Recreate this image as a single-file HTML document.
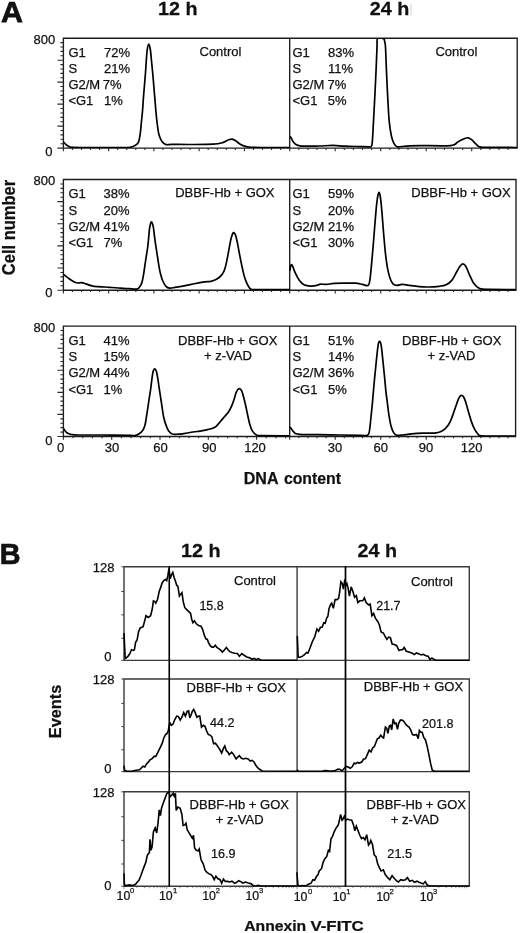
<!DOCTYPE html>
<html><head><meta charset="utf-8"><style>
html,body{margin:0;padding:0;background:#fff;}
svg{display:block;filter:grayscale(1);}
text{font-family:"Liberation Sans",sans-serif;fill:#111;stroke:#111;stroke-width:0.25px;}
</style></head><body>
<svg width="520" height="933" viewBox="0 0 520 933">
<rect width="520" height="933" fill="#fff"/>
<clipPath id="ca0"><rect x="63.4" y="38.2" width="453.8" height="109.9"/></clipPath>
<path d="M63.4,38.2 H517.2 V148.1 H63.4 Z M289.7,38.2 V148.1" stroke="#1c1c1c" stroke-width="1.35" fill="none"/>
<path d="M57.4,148.10 h6.0 M60.4,143.70 h3.0 M60.4,139.31 h3.0 M60.4,134.91 h3.0 M60.4,130.52 h3.0 M57.4,126.12 h6.0 M60.4,121.72 h3.0 M60.4,117.33 h3.0 M60.4,112.93 h3.0 M60.4,108.54 h3.0 M57.4,104.14 h6.0 M60.4,99.74 h3.0 M60.4,95.35 h3.0 M60.4,90.95 h3.0 M60.4,86.56 h3.0 M57.4,82.16 h6.0 M60.4,77.76 h3.0 M60.4,73.37 h3.0 M60.4,68.97 h3.0 M60.4,64.58 h3.0 M57.4,60.18 h6.0 M60.4,55.78 h3.0 M60.4,51.39 h3.0 M60.4,46.99 h3.0 M60.4,42.60 h3.0 M63.40,148.1 v3.2 M72.45,148.1 v1.8 M81.50,148.1 v1.8 M90.55,148.1 v1.8 M99.60,148.1 v1.8 M108.65,148.1 v3.2 M117.70,148.1 v1.8 M126.75,148.1 v1.8 M135.80,148.1 v1.8 M144.85,148.1 v1.8 M153.90,148.1 v3.2 M162.95,148.1 v1.8 M172.00,148.1 v1.8 M181.05,148.1 v1.8 M190.10,148.1 v1.8 M199.15,148.1 v3.2 M208.20,148.1 v1.8 M217.25,148.1 v1.8 M226.30,148.1 v1.8 M235.35,148.1 v1.8 M244.40,148.1 v3.2 M253.45,148.1 v1.8 M262.50,148.1 v1.8 M271.55,148.1 v1.8 M280.60,148.1 v1.8 M289.70,148.1 v3.2 M298.80,148.1 v1.8 M307.90,148.1 v1.8 M317.00,148.1 v1.8 M326.10,148.1 v1.8 M335.20,148.1 v3.2 M344.30,148.1 v1.8 M353.40,148.1 v1.8 M362.50,148.1 v1.8 M371.60,148.1 v1.8 M380.70,148.1 v3.2 M389.80,148.1 v1.8 M398.90,148.1 v1.8 M408.00,148.1 v1.8 M417.10,148.1 v1.8 M426.20,148.1 v3.2 M435.30,148.1 v1.8 M444.40,148.1 v1.8 M453.50,148.1 v1.8 M462.60,148.1 v1.8 M471.70,148.1 v3.2 M480.80,148.1 v1.8 M489.90,148.1 v1.8 M499.00,148.1 v1.8 M508.10,148.1 v1.8 " stroke="#2a2a2a" stroke-width="1.1" fill="none"/>
<g clip-path="url(#ca0)"><path d="M63.50,142.00 C63.92,142.43 65.08,143.85 66.00,144.60 C66.92,145.35 68.00,146.05 69.00,146.50 C70.00,146.95 68.50,147.13 72.00,147.30 C75.50,147.47 82.00,147.47 90.00,147.50 C98.00,147.53 113.33,147.53 120.00,147.50 C126.67,147.47 127.53,147.62 130.00,147.30 C132.47,146.98 133.40,146.42 134.80,145.60 C136.20,144.78 137.50,144.33 138.40,142.40 C139.30,140.47 139.70,137.40 140.20,134.00 C140.70,130.60 141.00,126.00 141.40,122.00 C141.80,118.00 142.27,114.00 142.60,110.00 C142.93,106.00 143.10,102.00 143.40,98.00 C143.70,94.00 144.07,90.00 144.40,86.00 C144.73,82.00 145.10,78.00 145.40,74.00 C145.70,70.00 145.90,66.00 146.20,62.00 C146.50,58.00 146.77,52.97 147.20,50.00 C147.63,47.03 148.27,44.20 148.80,44.20 C149.33,44.20 149.93,47.03 150.40,50.00 C150.87,52.97 151.20,58.00 151.60,62.00 C152.00,66.00 152.43,70.00 152.80,74.00 C153.17,78.00 153.47,82.00 153.80,86.00 C154.13,90.00 154.47,94.00 154.80,98.00 C155.13,102.00 155.43,106.00 155.80,110.00 C156.17,114.00 156.50,118.00 157.00,122.00 C157.50,126.00 158.00,130.80 158.80,134.00 C159.60,137.20 160.60,139.43 161.80,141.20 C163.00,142.97 164.30,144.07 166.00,144.60 C167.70,145.13 168.00,144.42 172.00,144.40 C176.00,144.38 183.17,144.53 190.00,144.50 C196.83,144.47 207.55,144.52 213.00,144.20 C218.45,143.88 220.08,143.35 222.70,142.60 C225.32,141.85 227.10,140.28 228.70,139.70 C230.30,139.12 231.10,138.88 232.30,139.10 C233.50,139.32 234.50,140.10 235.90,141.00 C237.30,141.90 239.10,143.60 240.70,144.50 C242.30,145.40 243.70,145.93 245.50,146.40 C247.30,146.87 247.42,147.10 251.50,147.30 C255.58,147.50 263.75,147.53 270.00,147.60 C276.25,147.67 285.83,147.68 289.00,147.70" stroke="#000" stroke-width="1.7" fill="none" stroke-linejoin="round" stroke-linecap="round"/><path d="M290.50,137.00 C290.67,137.25 291.08,137.75 291.50,138.50 C291.92,139.25 292.25,140.50 293.00,141.50 C293.75,142.50 294.83,143.78 296.00,144.50 C297.17,145.22 297.67,145.52 300.00,145.80 C302.33,146.08 306.67,146.17 310.00,146.20 C313.33,146.23 316.17,146.13 320.00,146.00 C323.83,145.87 328.83,145.37 333.00,145.40 C337.17,145.43 340.50,146.00 345.00,146.20 C349.50,146.40 356.00,146.50 360.00,146.60 C364.00,146.70 367.13,146.80 369.00,146.80 C370.87,146.80 370.65,147.38 371.20,146.60 C371.75,145.82 371.92,146.33 372.30,142.10 C372.68,137.87 373.08,128.78 373.50,121.20 C373.92,113.62 374.38,104.80 374.80,96.60 C375.22,88.40 375.63,80.22 376.00,72.00 C376.37,63.78 376.73,52.87 377.00,47.30 C377.27,41.73 376.53,40.05 377.60,38.60 C378.67,37.15 382.23,38.17 383.40,38.60 C384.57,39.03 384.25,39.75 384.60,41.20 C384.95,42.65 385.18,42.17 385.50,47.30 C385.82,52.43 386.13,63.78 386.50,72.00 C386.87,80.22 387.25,88.40 387.70,96.60 C388.15,104.80 388.58,114.63 389.20,121.20 C389.82,127.77 390.62,132.30 391.40,136.00 C392.18,139.70 392.97,141.60 393.90,143.40 C394.83,145.20 395.67,146.28 397.00,146.80 C398.33,147.32 399.85,146.67 401.90,146.50 C403.95,146.33 406.28,145.95 409.30,145.80 C412.32,145.65 413.08,145.63 420.00,145.60 C426.92,145.57 444.52,146.22 450.80,145.60 C457.08,144.98 455.38,143.08 457.70,141.90 C460.02,140.72 462.97,139.18 464.70,138.50 C466.43,137.82 466.95,137.62 468.10,137.80 C469.25,137.98 470.25,138.53 471.60,139.60 C472.95,140.67 474.67,142.95 476.20,144.20 C477.73,145.45 476.83,146.57 480.80,147.10 C484.77,147.63 494.05,147.33 500.00,147.40 C505.95,147.47 513.75,147.48 516.50,147.50" stroke="#000" stroke-width="1.7" fill="none" stroke-linejoin="round" stroke-linecap="round"/></g>
<text transform="translate(55.30,43.50) scale(1.000,1)" font-size="13" text-anchor="end">800</text>
<text transform="translate(52.50,155.60) scale(1.000,1)" font-size="13" text-anchor="end">0</text>
<clipPath id="ca1"><rect x="63.4" y="179.5" width="452.6" height="110.7"/></clipPath>
<path d="M63.4,179.5 H516.0 V290.2 H63.4 Z M289.7,179.5 V290.2" stroke="#1c1c1c" stroke-width="1.35" fill="none"/>
<path d="M57.4,290.20 h6.0 M60.4,285.77 h3.0 M60.4,281.34 h3.0 M60.4,276.92 h3.0 M60.4,272.49 h3.0 M57.4,268.06 h6.0 M60.4,263.63 h3.0 M60.4,259.20 h3.0 M60.4,254.78 h3.0 M60.4,250.35 h3.0 M57.4,245.92 h6.0 M60.4,241.49 h3.0 M60.4,237.06 h3.0 M60.4,232.64 h3.0 M60.4,228.21 h3.0 M57.4,223.78 h6.0 M60.4,219.35 h3.0 M60.4,214.92 h3.0 M60.4,210.50 h3.0 M60.4,206.07 h3.0 M57.4,201.64 h6.0 M60.4,197.21 h3.0 M60.4,192.78 h3.0 M60.4,188.36 h3.0 M60.4,183.93 h3.0 M63.40,290.2 v3.2 M72.45,290.2 v1.8 M81.50,290.2 v1.8 M90.55,290.2 v1.8 M99.60,290.2 v1.8 M108.65,290.2 v3.2 M117.70,290.2 v1.8 M126.75,290.2 v1.8 M135.80,290.2 v1.8 M144.85,290.2 v1.8 M153.90,290.2 v3.2 M162.95,290.2 v1.8 M172.00,290.2 v1.8 M181.05,290.2 v1.8 M190.10,290.2 v1.8 M199.15,290.2 v3.2 M208.20,290.2 v1.8 M217.25,290.2 v1.8 M226.30,290.2 v1.8 M235.35,290.2 v1.8 M244.40,290.2 v3.2 M253.45,290.2 v1.8 M262.50,290.2 v1.8 M271.55,290.2 v1.8 M280.60,290.2 v1.8 M289.70,290.2 v3.2 M298.80,290.2 v1.8 M307.90,290.2 v1.8 M317.00,290.2 v1.8 M326.10,290.2 v1.8 M335.20,290.2 v3.2 M344.30,290.2 v1.8 M353.40,290.2 v1.8 M362.50,290.2 v1.8 M371.60,290.2 v1.8 M380.70,290.2 v3.2 M389.80,290.2 v1.8 M398.90,290.2 v1.8 M408.00,290.2 v1.8 M417.10,290.2 v1.8 M426.20,290.2 v3.2 M435.30,290.2 v1.8 M444.40,290.2 v1.8 M453.50,290.2 v1.8 M462.60,290.2 v1.8 M471.70,290.2 v3.2 M480.80,290.2 v1.8 M489.90,290.2 v1.8 M499.00,290.2 v1.8 M508.10,290.2 v1.8 " stroke="#2a2a2a" stroke-width="1.1" fill="none"/>
<g clip-path="url(#ca1)"><path d="M63.50,274.40 C64.37,275.07 66.98,277.17 68.70,278.40 C70.42,279.63 72.37,281.03 73.80,281.80 C75.23,282.57 76.00,282.85 77.30,283.00 C78.60,283.15 80.15,282.55 81.60,282.70 C83.05,282.85 84.42,283.42 86.00,283.90 C87.58,284.38 89.23,285.13 91.10,285.60 C92.97,286.07 94.88,286.47 97.20,286.70 C99.52,286.93 102.55,286.87 105.00,287.00 C107.45,287.13 109.30,287.30 111.90,287.50 C114.50,287.70 117.72,288.00 120.60,288.20 C123.48,288.40 126.62,288.55 129.20,288.70 C131.78,288.85 134.50,289.22 136.10,289.10 C137.70,288.98 137.85,289.03 138.80,288.00 C139.75,286.97 140.98,285.27 141.80,282.90 C142.62,280.53 143.17,276.85 143.70,273.80 C144.23,270.75 144.55,267.65 145.00,264.60 C145.45,261.55 145.93,258.53 146.40,255.50 C146.87,252.47 147.42,249.43 147.80,246.40 C148.18,243.37 148.40,240.33 148.70,237.30 C149.00,234.27 149.18,230.77 149.60,228.20 C150.02,225.63 150.60,222.20 151.20,221.90 C151.80,221.60 152.63,223.83 153.20,226.40 C153.77,228.97 154.15,233.97 154.60,237.30 C155.05,240.63 155.45,243.37 155.90,246.40 C156.35,249.43 156.83,252.47 157.30,255.50 C157.77,258.53 158.17,261.55 158.70,264.60 C159.23,267.65 159.82,271.07 160.50,273.80 C161.18,276.53 161.88,278.92 162.80,281.00 C163.72,283.08 164.87,285.12 166.00,286.30 C167.13,287.48 168.10,287.92 169.60,288.10 C171.10,288.28 173.02,287.70 175.00,287.40 C176.98,287.10 178.48,286.87 181.50,286.30 C184.52,285.73 189.25,284.73 193.10,284.00 C196.95,283.27 201.65,282.33 204.60,281.90 C207.55,281.47 208.82,281.85 210.80,281.40 C212.78,280.95 214.78,280.15 216.50,279.20 C218.22,278.25 219.85,277.05 221.10,275.70 C222.35,274.35 223.22,272.82 224.00,271.10 C224.78,269.38 225.22,267.70 225.80,265.40 C226.38,263.10 226.93,260.18 227.50,257.30 C228.07,254.42 228.62,251.18 229.20,248.10 C229.78,245.02 230.42,241.20 231.00,238.80 C231.58,236.40 232.23,234.73 232.70,233.70 C233.17,232.67 233.32,232.32 233.80,232.60 C234.28,232.88 235.02,233.78 235.60,235.40 C236.18,237.02 236.73,239.62 237.30,242.30 C237.87,244.98 238.42,248.42 239.00,251.50 C239.58,254.58 240.22,257.92 240.80,260.80 C241.38,263.68 241.83,265.92 242.50,268.80 C243.17,271.68 243.93,275.40 244.80,278.10 C245.67,280.80 246.65,283.15 247.70,285.00 C248.75,286.85 249.05,288.45 251.10,289.20 C253.15,289.95 253.68,289.43 260.00,289.50 C266.32,289.57 284.17,289.58 289.00,289.60" stroke="#000" stroke-width="1.7" fill="none" stroke-linejoin="round" stroke-linecap="round"/><path d="M289.90,270.40 C290.02,269.75 290.35,267.47 290.60,266.50 C290.85,265.53 291.08,264.72 291.40,264.60 C291.72,264.48 291.98,264.70 292.50,265.80 C293.02,266.90 293.67,269.28 294.50,271.20 C295.33,273.12 296.48,275.52 297.50,277.30 C298.52,279.08 299.43,280.62 300.60,281.90 C301.77,283.18 303.22,284.35 304.50,285.00 C305.78,285.65 307.02,285.60 308.30,285.80 C309.58,286.00 310.78,286.27 312.20,286.20 C313.62,286.13 315.40,285.73 316.80,285.40 C318.20,285.07 319.07,284.37 320.60,284.20 C322.13,284.03 323.73,284.53 326.00,284.40 C328.27,284.27 331.03,283.60 334.20,283.40 C337.37,283.20 341.53,283.23 345.00,283.20 C348.47,283.17 352.10,283.00 355.00,283.20 C357.90,283.40 360.35,283.98 362.40,284.40 C364.45,284.82 366.17,285.87 367.30,285.70 C368.43,285.53 368.68,285.02 369.20,283.40 C369.72,281.78 370.00,279.28 370.40,276.00 C370.80,272.72 371.18,268.20 371.60,263.70 C372.02,259.20 372.48,253.92 372.90,249.00 C373.32,244.08 373.70,239.13 374.10,234.20 C374.50,229.27 374.88,224.33 375.30,219.40 C375.72,214.47 376.18,208.50 376.60,204.60 C377.02,200.70 377.40,198.03 377.80,196.00 C378.20,193.97 378.60,192.40 379.00,192.40 C379.40,192.40 379.78,193.55 380.20,196.00 C380.62,198.45 381.08,202.78 381.50,207.10 C381.92,211.42 382.30,216.97 382.70,221.90 C383.10,226.83 383.43,231.37 383.90,236.70 C384.37,242.03 384.88,248.57 385.50,253.90 C386.12,259.23 386.83,264.60 387.60,268.70 C388.37,272.80 389.17,275.93 390.10,278.50 C391.03,281.07 392.07,282.97 393.20,284.10 C394.33,285.23 395.47,285.25 396.90,285.30 C398.33,285.35 400.45,284.50 401.80,284.40 C403.15,284.30 402.98,284.45 405.00,284.70 C407.02,284.95 410.12,285.52 413.90,285.90 C417.68,286.28 423.47,286.93 427.70,287.00 C431.93,287.07 436.22,286.68 439.30,286.30 C442.38,285.92 444.08,285.73 446.20,284.70 C448.32,283.67 450.27,282.22 452.00,280.10 C453.73,277.98 455.27,274.32 456.60,272.00 C457.93,269.68 458.97,267.55 460.00,266.20 C461.03,264.85 461.83,263.90 462.80,263.90 C463.77,263.90 464.72,264.47 465.80,266.20 C466.88,267.93 467.95,271.42 469.30,274.30 C470.65,277.18 472.17,281.12 473.90,283.50 C475.63,285.88 477.02,287.62 479.70,288.60 C482.38,289.58 484.07,289.25 490.00,289.40 C495.93,289.55 511.08,289.48 515.30,289.50" stroke="#000" stroke-width="1.7" fill="none" stroke-linejoin="round" stroke-linecap="round"/></g>
<text transform="translate(55.30,185.00) scale(1.000,1)" font-size="13" text-anchor="end">800</text>
<text transform="translate(52.50,297.00) scale(1.000,1)" font-size="13" text-anchor="end">0</text>
<clipPath id="ca2"><rect x="63.4" y="326.1" width="452.2" height="110.4"/></clipPath>
<path d="M63.4,326.1 H515.6 V436.5 H63.4 Z M289.7,326.1 V436.5" stroke="#1c1c1c" stroke-width="1.35" fill="none"/>
<path d="M57.4,436.50 h6.0 M60.4,432.08 h3.0 M60.4,427.67 h3.0 M60.4,423.25 h3.0 M60.4,418.84 h3.0 M57.4,414.42 h6.0 M60.4,410.00 h3.0 M60.4,405.59 h3.0 M60.4,401.17 h3.0 M60.4,396.76 h3.0 M57.4,392.34 h6.0 M60.4,387.92 h3.0 M60.4,383.51 h3.0 M60.4,379.09 h3.0 M60.4,374.68 h3.0 M57.4,370.26 h6.0 M60.4,365.84 h3.0 M60.4,361.43 h3.0 M60.4,357.01 h3.0 M60.4,352.60 h3.0 M57.4,348.18 h6.0 M60.4,343.76 h3.0 M60.4,339.35 h3.0 M60.4,334.93 h3.0 M60.4,330.52 h3.0 M63.40,436.5 v3.2 M73.06,436.5 v1.8 M82.72,436.5 v1.8 M92.38,436.5 v1.8 M102.04,436.5 v1.8 M111.70,436.5 v3.2 M121.36,436.5 v1.8 M131.02,436.5 v1.8 M140.68,436.5 v1.8 M150.34,436.5 v1.8 M160.00,436.5 v3.2 M169.66,436.5 v1.8 M179.32,436.5 v1.8 M188.98,436.5 v1.8 M198.64,436.5 v1.8 M208.30,436.5 v3.2 M217.96,436.5 v1.8 M227.62,436.5 v1.8 M237.28,436.5 v1.8 M246.94,436.5 v1.8 M256.60,436.5 v3.2 M266.26,436.5 v1.8 M275.92,436.5 v1.8 M285.58,436.5 v1.8 M289.70,436.5 v3.2 M298.80,436.5 v1.8 M307.90,436.5 v1.8 M317.00,436.5 v1.8 M326.10,436.5 v1.8 M335.20,436.5 v3.2 M344.30,436.5 v1.8 M353.40,436.5 v1.8 M362.50,436.5 v1.8 M371.60,436.5 v1.8 M380.70,436.5 v3.2 M389.80,436.5 v1.8 M398.90,436.5 v1.8 M408.00,436.5 v1.8 M417.10,436.5 v1.8 M426.20,436.5 v3.2 M435.30,436.5 v1.8 M444.40,436.5 v1.8 M453.50,436.5 v1.8 M462.60,436.5 v1.8 M471.70,436.5 v3.2 M480.80,436.5 v1.8 M489.90,436.5 v1.8 M499.00,436.5 v1.8 M508.10,436.5 v1.8 " stroke="#2a2a2a" stroke-width="1.1" fill="none"/>
<g clip-path="url(#ca2)"><path d="M63.50,428.50 C64.07,429.20 65.17,431.65 66.90,432.70 C68.63,433.75 68.38,434.42 73.90,434.80 C79.42,435.18 90.65,434.92 100.00,435.00 C109.35,435.08 124.20,435.20 130.00,435.30 C135.80,435.40 133.35,435.82 134.80,435.60 C136.25,435.38 137.42,434.82 138.70,434.00 C139.98,433.18 141.47,432.13 142.50,430.70 C143.53,429.27 144.27,427.57 144.90,425.40 C145.53,423.23 145.82,420.58 146.30,417.70 C146.78,414.82 147.32,411.30 147.80,408.10 C148.28,404.90 148.72,401.72 149.20,398.50 C149.68,395.28 150.25,392.02 150.70,388.80 C151.15,385.58 151.50,382.08 151.90,379.20 C152.30,376.32 152.62,373.23 153.10,371.50 C153.58,369.77 154.25,368.80 154.80,368.80 C155.35,368.80 155.88,369.77 156.40,371.50 C156.92,373.23 157.42,376.32 157.90,379.20 C158.38,382.08 158.82,385.58 159.30,388.80 C159.78,392.02 160.32,395.28 160.80,398.50 C161.28,401.72 161.70,404.90 162.20,408.10 C162.70,411.30 163.15,414.82 163.80,417.70 C164.45,420.58 165.32,423.23 166.10,425.40 C166.88,427.57 167.47,429.27 168.50,430.70 C169.53,432.13 170.70,433.42 172.30,434.00 C173.90,434.58 176.17,434.27 178.10,434.20 C180.03,434.13 181.40,433.97 183.90,433.60 C186.40,433.23 190.42,432.42 193.10,432.00 C195.78,431.58 197.95,431.42 200.00,431.10 C202.05,430.78 203.38,430.53 205.40,430.10 C207.42,429.67 210.30,429.12 212.10,428.50 C213.90,427.88 214.85,427.53 216.20,426.40 C217.55,425.27 218.87,423.27 220.20,421.70 C221.53,420.13 222.85,418.57 224.20,417.00 C225.55,415.43 227.07,414.10 228.30,412.30 C229.53,410.50 230.60,408.45 231.60,406.20 C232.60,403.95 233.52,401.15 234.30,398.80 C235.08,396.45 235.52,393.78 236.30,392.10 C237.08,390.42 238.10,388.92 239.00,388.70 C239.90,388.48 240.92,389.33 241.70,390.80 C242.48,392.27 243.02,394.93 243.70,397.50 C244.38,400.07 245.12,403.17 245.80,406.20 C246.48,409.23 247.13,412.67 247.80,415.70 C248.47,418.73 249.02,421.83 249.80,424.40 C250.58,426.97 251.38,429.33 252.50,431.10 C253.62,432.87 255.15,434.23 256.50,435.00 C257.85,435.77 255.18,435.57 260.60,435.70 C266.02,435.83 284.27,435.78 289.00,435.80" stroke="#000" stroke-width="1.7" fill="none" stroke-linejoin="round" stroke-linecap="round"/><path d="M290.30,427.40 C290.88,428.17 292.27,430.85 293.80,432.00 C295.33,433.15 293.47,433.83 299.50,434.30 C305.53,434.77 319.92,434.62 330.00,434.80 C340.08,434.98 353.92,435.27 360.00,435.40 C366.08,435.53 365.03,435.87 366.50,435.60 C367.97,435.33 368.22,435.28 368.80,433.80 C369.38,432.32 369.60,429.85 370.00,426.70 C370.40,423.55 370.80,418.83 371.20,414.90 C371.60,410.97 372.00,407.42 372.40,403.10 C372.80,398.78 373.22,393.32 373.60,389.00 C373.98,384.68 374.32,381.13 374.70,377.20 C375.08,373.27 375.50,369.33 375.90,365.40 C376.30,361.47 376.70,357.13 377.10,353.60 C377.50,350.07 377.87,346.25 378.30,344.20 C378.73,342.15 379.22,341.12 379.70,341.30 C380.18,341.48 380.75,342.87 381.20,345.30 C381.65,347.73 382.00,352.17 382.40,355.90 C382.80,359.63 383.20,363.77 383.60,367.70 C384.00,371.63 384.42,375.57 384.80,379.50 C385.18,383.43 385.47,387.37 385.90,391.30 C386.33,395.23 386.90,399.17 387.40,403.10 C387.90,407.03 388.32,411.17 388.90,414.90 C389.48,418.63 390.12,422.55 390.90,425.50 C391.68,428.45 392.65,430.98 393.60,432.60 C394.55,434.22 395.12,434.80 396.60,435.20 C398.08,435.60 400.02,435.22 402.50,435.00 C404.98,434.78 408.07,434.20 411.50,433.90 C414.93,433.60 420.02,433.32 423.10,433.20 C426.18,433.08 427.88,433.25 430.00,433.20 C432.12,433.15 434.07,433.15 435.80,432.90 C437.53,432.65 438.87,432.38 440.40,431.70 C441.93,431.02 443.65,429.95 445.00,428.80 C446.35,427.65 447.45,426.43 448.50,424.80 C449.55,423.17 450.45,421.02 451.30,419.00 C452.15,416.98 452.82,414.90 453.60,412.70 C454.38,410.50 455.22,408.02 456.00,405.80 C456.78,403.58 457.60,401.03 458.30,399.40 C459.00,397.77 459.63,396.65 460.20,396.00 C460.77,395.35 461.17,395.42 461.70,395.50 C462.23,395.58 462.82,395.65 463.40,396.50 C463.98,397.35 464.62,398.97 465.20,400.60 C465.78,402.23 466.23,404.00 466.90,406.30 C467.57,408.60 468.43,411.80 469.20,414.40 C469.97,417.00 470.63,419.50 471.50,421.90 C472.37,424.30 473.33,426.78 474.40,428.80 C475.47,430.82 476.75,432.82 477.90,434.00 C479.05,435.18 477.62,435.55 481.30,435.90 C484.98,436.25 494.38,436.07 500.00,436.10 C505.62,436.13 512.50,436.10 515.00,436.10" stroke="#000" stroke-width="1.7" fill="none" stroke-linejoin="round" stroke-linecap="round"/></g>
<text transform="translate(55.30,331.90) scale(1.000,1)" font-size="13" text-anchor="end">800</text>
<text transform="translate(52.50,444.70) scale(1.000,1)" font-size="13" text-anchor="end">0</text>
<text transform="translate(68.40,57.30) scale(1.000,1)" font-size="13">G1</text>
<text transform="translate(104.00,57.30) scale(1.000,1)" font-size="13">72%</text>
<text transform="translate(68.40,73.20) scale(1.000,1)" font-size="13">S</text>
<text transform="translate(104.00,73.20) scale(1.000,1)" font-size="13">21%</text>
<text transform="translate(68.40,89.10) scale(1.000,1)" font-size="13">G2/M</text>
<text transform="translate(102.80,89.10) scale(1.000,1)" font-size="13">7%</text>
<text transform="translate(68.40,105.00) scale(1.000,1)" font-size="13">&lt;G1</text>
<text transform="translate(104.00,105.00) scale(1.000,1)" font-size="13">1%</text>
<text transform="translate(292.50,57.20) scale(1.000,1)" font-size="13">G1</text>
<text transform="translate(328.10,57.20) scale(1.000,1)" font-size="13">83%</text>
<text transform="translate(292.50,73.20) scale(1.000,1)" font-size="13">S</text>
<text transform="translate(328.10,73.20) scale(1.000,1)" font-size="13">11%</text>
<text transform="translate(292.50,89.20) scale(1.000,1)" font-size="13">G2/M</text>
<text transform="translate(327.50,89.20) scale(1.000,1)" font-size="13">7%</text>
<text transform="translate(292.50,105.20) scale(1.000,1)" font-size="13">&lt;G1</text>
<text transform="translate(327.70,105.20) scale(1.000,1)" font-size="13">5%</text>
<text transform="translate(68.40,198.40) scale(1.000,1)" font-size="13">G1</text>
<text transform="translate(103.60,198.40) scale(1.000,1)" font-size="13">38%</text>
<text transform="translate(68.40,214.60) scale(1.000,1)" font-size="13">S</text>
<text transform="translate(103.60,214.60) scale(1.000,1)" font-size="13">20%</text>
<text transform="translate(68.40,230.80) scale(1.000,1)" font-size="13">G2/M</text>
<text transform="translate(103.50,230.80) scale(1.000,1)" font-size="13">41%</text>
<text transform="translate(68.40,247.00) scale(1.000,1)" font-size="13">&lt;G1</text>
<text transform="translate(103.50,247.00) scale(1.000,1)" font-size="13">7%</text>
<text transform="translate(292.50,198.40) scale(1.000,1)" font-size="13">G1</text>
<text transform="translate(328.10,198.40) scale(1.000,1)" font-size="13">59%</text>
<text transform="translate(292.50,214.60) scale(1.000,1)" font-size="13">S</text>
<text transform="translate(328.10,214.60) scale(1.000,1)" font-size="13">20%</text>
<text transform="translate(292.50,230.80) scale(1.000,1)" font-size="13">G2/M</text>
<text transform="translate(328.10,230.80) scale(1.000,1)" font-size="13">21%</text>
<text transform="translate(292.50,247.00) scale(1.000,1)" font-size="13">&lt;G1</text>
<text transform="translate(328.10,247.00) scale(1.000,1)" font-size="13">30%</text>
<text transform="translate(68.40,344.90) scale(1.000,1)" font-size="13">G1</text>
<text transform="translate(103.60,344.90) scale(1.000,1)" font-size="13">41%</text>
<text transform="translate(68.40,361.10) scale(1.000,1)" font-size="13">S</text>
<text transform="translate(103.60,361.10) scale(1.000,1)" font-size="13">15%</text>
<text transform="translate(68.40,377.30) scale(1.000,1)" font-size="13">G2/M</text>
<text transform="translate(103.60,377.30) scale(1.000,1)" font-size="13">44%</text>
<text transform="translate(68.40,393.50) scale(1.000,1)" font-size="13">&lt;G1</text>
<text transform="translate(103.60,393.50) scale(1.000,1)" font-size="13">1%</text>
<text transform="translate(292.50,344.90) scale(1.000,1)" font-size="13">G1</text>
<text transform="translate(328.10,344.90) scale(1.000,1)" font-size="13">51%</text>
<text transform="translate(292.50,361.10) scale(1.000,1)" font-size="13">S</text>
<text transform="translate(328.10,361.10) scale(1.000,1)" font-size="13">14%</text>
<text transform="translate(292.50,377.30) scale(1.000,1)" font-size="13">G2/M</text>
<text transform="translate(328.10,377.30) scale(1.000,1)" font-size="13">36%</text>
<text transform="translate(292.50,393.50) scale(1.000,1)" font-size="13">&lt;G1</text>
<text transform="translate(328.10,393.50) scale(1.000,1)" font-size="13">5%</text>
<text transform="translate(199.50,56.00) scale(1.000,1)" font-size="13">Control</text>
<text transform="translate(435.40,56.00) scale(1.000,1)" font-size="13">Control</text>
<text transform="translate(175.20,196.90) scale(1.000,1)" font-size="13">DBBF-Hb + GOX</text>
<text transform="translate(411.30,196.90) scale(1.000,1)" font-size="13">DBBF-Hb + GOX</text>
<text transform="translate(178.00,344.50) scale(1.000,1)" font-size="13">DBBF-Hb + GOX</text>
<text transform="translate(204.00,360.40) scale(1.000,1)" font-size="13">+ z-VAD</text>
<text transform="translate(402.00,344.60) scale(1.000,1)" font-size="13">DBBF-Hb + GOX</text>
<text transform="translate(427.50,359.90) scale(1.000,1)" font-size="13">+ z-VAD</text>
<text transform="translate(60.50,451.80) scale(1.000,1)" font-size="13" text-anchor="middle">0</text>
<text transform="translate(112.00,451.80) scale(1.000,1)" font-size="13" text-anchor="middle">30</text>
<text transform="translate(160.60,451.80) scale(1.000,1)" font-size="13" text-anchor="middle">60</text>
<text transform="translate(209.20,451.80) scale(1.000,1)" font-size="13" text-anchor="middle">90</text>
<text transform="translate(255.00,451.80) scale(1.000,1)" font-size="13" text-anchor="middle">120</text>
<text transform="translate(335.00,451.80) scale(1.000,1)" font-size="13" text-anchor="middle">30</text>
<text transform="translate(380.80,451.80) scale(1.000,1)" font-size="13" text-anchor="middle">60</text>
<text transform="translate(425.90,451.80) scale(1.000,1)" font-size="13" text-anchor="middle">90</text>
<text transform="translate(471.60,451.80) scale(1.000,1)" font-size="13" text-anchor="middle">120</text>
<text transform="translate(0.90,22.30) scale(1.000,1)" font-size="30.4" font-weight="bold" style="stroke-width:0.75px">A</text>
<text transform="translate(177.70,15.40) scale(1.070,1)" font-size="18.5" font-weight="bold" text-anchor="middle">12 h</text>
<text transform="translate(389.60,15.40) scale(1.070,1)" font-size="18.5" font-weight="bold" text-anchor="middle">24 h</text>
<line x1="411" y1="4.3" x2="411" y2="15.3" stroke="#cfcfcf" stroke-width="1"/>
<text transform="translate(243.80,483.50) scale(1.000,1)" font-size="16" font-weight="bold">DNA</text>
<text transform="translate(283.90,483.50) scale(0.990,1)" font-size="16" font-weight="bold">content</text>
<g transform="translate(15,227.5) scale(1.09,1) rotate(-90)"><text x="0" y="0" font-size="16.5" font-weight="bold" text-anchor="middle">Cell number</text></g>
<clipPath id="cb0"><rect x="123.0" y="566.3" width="347.3" height="94.6"/></clipPath>
<path d="M124.0,566.8 H469.3 V660.4 H124.0 Z M297.1,566.8 V660.4" stroke="#3a3a3a" stroke-width="1.4" fill="none"/>
<path d="M121.3,660.40 h2.7 M121.3,638.30 h2.7 M121.3,614.90 h2.7 M121.3,591.50 h2.7 M121.3,566.80 h2.7 " stroke="#333" stroke-width="0.9" fill="none"/>
<g clip-path="url(#cb0)"><path d="M124.0,633.0 L124.6,645.7 L125.2,658.4 L126.3,657.8 L128.1,656.1 L129.8,653.8 L131.5,649.8 L133.3,650.4 L134.4,649.8 L135.6,642.3 L137.1,640.0 L138.5,631.9 L140.2,627.9 L143.1,626.7 L144.5,621.5 L146.0,615.7 L148.3,617.5 L150.6,615.7 L152.3,608.8 L153.4,600.8 L154.6,601.3 L155.8,603.1 L157.5,599.6 L159.2,591.5 L160.9,586.9 L162.1,582.9 L163.8,580.6 L165.6,579.4 L166.7,580.6 L167.9,575.4 L169.0,568.5 L170.2,578.8 L171.3,575.4 L172.8,572.5 L174.2,577.7 L175.4,581.1 L176.7,585.2 L177.9,586.3 L179.4,596.1 L180.5,594.4 L181.9,592.7 L183.3,601.9 L184.8,607.7 L186.5,609.4 L188.3,611.1 L190.6,613.4 L191.7,619.2 L192.9,622.7 L194.4,620.9 L196.3,623.8 L198.6,625.6 L201.0,626.1 L202.7,629.6 L204.4,635.4 L205.9,638.8 L207.3,639.4 L208.4,642.3 L210.2,645.7 L211.9,647.1 L213.6,647.1 L215.4,645.2 L216.8,647.5 L218.8,648.6 L220.6,650.1 L222.3,652.1 L224.0,650.4 L226.3,647.5 L228.1,649.8 L229.8,651.7 L232.0,652.6 L234.7,653.3 L237.4,653.5 L239.4,656.2 L241.8,653.5 L244.1,655.3 L246.8,656.9 L249.5,657.7 L252.2,659.3 L254.2,658.4 L256.2,659.7 L258.3,658.6 L261.0,660.2 L297.0,660.2" stroke="#000" stroke-width="1.6" fill="none" stroke-linejoin="miter" stroke-miterlimit="3"/><path d="M297.3,635.9 L298.2,657.3 L300.2,657.3 L302.5,656.1 L304.8,654.4 L306.5,652.4 L307.9,653.2 L310.0,648.0 L312.3,641.7 L314.6,637.1 L316.9,629.0 L318.6,631.3 L320.4,627.3 L322.1,627.3 L323.8,622.7 L325.2,623.2 L326.7,618.1 L327.9,616.3 L329.0,608.8 L330.8,604.2 L331.7,603.1 L333.3,608.3 L335.1,599.6 L337.1,599.6 L338.6,598.4 L339.4,593.8 L340.9,581.7 L342.3,583.5 L343.4,589.2 L344.8,579.4 L345.7,585.8 L346.9,583.5 L348.1,588.1 L349.4,596.1 L351.2,586.9 L352.9,591.5 L354.6,597.3 L356.3,595.6 L357.8,602.5 L359.8,600.8 L362.7,600.8 L364.4,597.9 L366.1,602.5 L368.5,604.8 L370.2,604.2 L371.9,615.7 L373.6,613.4 L375.4,618.1 L377.7,621.5 L379.4,625.0 L381.1,631.9 L383.4,633.0 L385.2,636.5 L386.9,639.4 L388.6,637.1 L390.4,637.7 L392.1,644.0 L394.4,644.6 L396.7,645.7 L399.0,650.4 L400.7,649.8 L402.5,649.8 L404.2,647.5 L406.3,651.2 L409.0,651.9 L412.4,653.3 L414.4,654.6 L416.4,653.0 L419.1,653.9 L421.2,654.9 L423.2,654.3 L425.9,655.7 L428.1,656.2 L429.9,659.3 L431.9,658.0 L433.9,659.3 L436.0,660.2 L469.0,660.2" stroke="#000" stroke-width="1.6" fill="none" stroke-linejoin="miter" stroke-miterlimit="3"/></g>
<text transform="translate(114.40,572.00) scale(1.000,1)" font-size="13" text-anchor="end">128</text>
<clipPath id="cb1"><rect x="123.0" y="678.5" width="347.3" height="93.6"/></clipPath>
<path d="M124.0,679.0 H469.3 V771.6 H124.0 Z M297.1,679.0 V771.6" stroke="#3a3a3a" stroke-width="1.4" fill="none"/>
<path d="M121.3,771.60 h2.7 M121.3,749.75 h2.7 M121.3,726.60 h2.7 M121.3,703.45 h2.7 M121.3,679.00 h2.7 " stroke="#333" stroke-width="0.9" fill="none"/>
<g clip-path="url(#cb1)"><path d="M124.0,765.7 L124.6,770.3 L126.9,771.2 L131.5,771.2 L136.1,770.3 L139.6,769.7 L141.3,768.0 L143.1,766.2 L144.8,767.0 L146.5,763.9 L148.3,762.2 L150.0,759.9 L152.1,758.7 L154.0,756.4 L155.8,756.4 L158.1,751.8 L160.4,747.2 L162.1,743.7 L163.8,738.0 L165.6,734.5 L167.1,733.4 L168.2,731.1 L169.0,726.4 L169.8,722.4 L171.3,725.3 L173.1,724.1 L174.8,719.5 L176.7,716.1 L178.5,716.6 L180.2,720.1 L181.9,717.2 L183.7,712.6 L185.4,716.1 L187.1,711.4 L188.6,710.9 L189.8,717.8 L191.1,714.9 L192.3,711.4 L193.7,709.4 L195.2,712.6 L196.9,717.2 L198.6,716.1 L199.8,716.1 L201.5,727.0 L203.3,725.3 L205.0,726.4 L206.7,731.1 L208.4,734.5 L210.2,735.1 L211.9,736.8 L213.6,743.7 L215.4,743.2 L217.1,745.5 L219.4,748.9 L221.7,753.0 L223.4,748.4 L224.8,746.0 L226.3,750.7 L228.1,752.4 L229.2,754.7 L231.6,752.2 L233.4,754.2 L236.1,758.9 L238.1,756.9 L239.4,755.6 L241.4,758.3 L243.5,758.9 L245.5,758.3 L248.2,758.9 L250.2,761.0 L252.2,760.3 L254.2,762.3 L255.6,765.0 L257.6,767.7 L259.6,769.3 L262.3,771.0 L297.0,771.2" stroke="#000" stroke-width="1.6" fill="none" stroke-linejoin="miter" stroke-miterlimit="3"/><path d="M297.0,769.8 L298.4,771.1 L321.9,771.2 L324.6,770.5 L328.6,770.9 L332.7,771.1 L335.4,770.5 L338.1,769.1 L340.1,769.5 L342.1,770.9 L344.1,768.5 L346.1,766.4 L348.2,767.1 L350.2,768.2 L352.2,766.8 L354.2,763.1 L355.8,763.7 L357.6,762.4 L359.3,763.1 L361.7,762.0 L363.5,759.3 L365.5,758.7 L367.5,754.1 L369.2,750.1 L371.0,751.8 L372.7,747.8 L374.4,746.6 L376.1,742.0 L377.5,738.6 L379.0,738.0 L380.8,735.1 L382.5,737.4 L383.6,738.0 L385.4,727.0 L386.8,728.2 L387.9,733.4 L389.4,725.9 L390.6,725.3 L391.7,729.9 L393.2,718.9 L394.6,723.6 L396.0,723.0 L397.5,729.3 L398.6,723.6 L400.4,720.1 L402.1,720.1 L403.8,721.3 L405.6,724.1 L407.3,725.9 L409.0,727.0 L410.7,729.9 L412.5,734.5 L414.2,735.1 L416.5,734.5 L418.2,738.6 L419.4,730.5 L420.8,732.2 L422.2,732.2 L423.7,737.4 L425.4,739.7 L427.1,746.0 L428.8,754.1 L430.6,763.4 L432.3,770.3 L434.6,771.3 L469.0,771.3" stroke="#000" stroke-width="1.6" fill="none" stroke-linejoin="miter" stroke-miterlimit="3"/></g>
<text transform="translate(114.40,684.20) scale(1.000,1)" font-size="13" text-anchor="end">128</text>
<clipPath id="cb2"><rect x="123.0" y="791.3" width="347.3" height="95.5"/></clipPath>
<path d="M124.0,791.8 H469.3 V886.3 H124.0 Z M297.1,791.8 V886.3" stroke="#3a3a3a" stroke-width="1.4" fill="none"/>
<path d="M121.3,886.30 h2.7 M121.3,863.97 h2.7 M121.3,840.35 h2.7 M121.3,816.72 h2.7 M121.3,791.80 h2.7 " stroke="#333" stroke-width="0.9" fill="none"/>
<path d="M124.00,886.8 v2.2 M136.91,886.8 v1.4 M144.47,886.8 v1.4 M149.83,886.8 v1.4 M153.99,886.8 v1.4 M157.38,886.8 v1.4 M160.25,886.8 v1.4 M162.74,886.8 v1.4 M164.94,886.8 v1.4 M166.90,886.8 v2.2 M179.81,886.8 v1.4 M187.37,886.8 v1.4 M192.73,886.8 v1.4 M196.89,886.8 v1.4 M200.28,886.8 v1.4 M203.15,886.8 v1.4 M205.64,886.8 v1.4 M207.84,886.8 v1.4 M209.80,886.8 v2.2 M222.71,886.8 v1.4 M230.27,886.8 v1.4 M235.63,886.8 v1.4 M239.79,886.8 v1.4 M243.18,886.8 v1.4 M246.05,886.8 v1.4 M248.54,886.8 v1.4 M250.74,886.8 v1.4 M252.70,886.8 v2.2 M265.61,886.8 v1.4 M273.17,886.8 v1.4 M278.53,886.8 v1.4 M282.69,886.8 v1.4 M286.08,886.8 v1.4 M288.95,886.8 v1.4 M291.44,886.8 v1.4 M293.64,886.8 v1.4 M297.10,886.8 v2.2 M310.01,886.8 v1.4 M317.57,886.8 v1.4 M322.93,886.8 v1.4 M327.09,886.8 v1.4 M330.48,886.8 v1.4 M333.35,886.8 v1.4 M335.84,886.8 v1.4 M338.04,886.8 v1.4 M340.00,886.8 v2.2 M352.91,886.8 v1.4 M360.47,886.8 v1.4 M365.83,886.8 v1.4 M369.99,886.8 v1.4 M373.38,886.8 v1.4 M376.25,886.8 v1.4 M378.74,886.8 v1.4 M380.94,886.8 v1.4 M382.90,886.8 v2.2 M395.81,886.8 v1.4 M403.37,886.8 v1.4 M408.73,886.8 v1.4 M412.89,886.8 v1.4 M416.28,886.8 v1.4 M419.15,886.8 v1.4 M421.64,886.8 v1.4 M423.84,886.8 v1.4 M425.80,886.8 v2.2 M438.71,886.8 v1.4 M446.27,886.8 v1.4 M451.63,886.8 v1.4 M455.79,886.8 v1.4 M459.18,886.8 v1.4 M462.05,886.8 v1.4 M464.54,886.8 v1.4 M466.74,886.8 v1.4 " stroke="#777" stroke-width="0.8" fill="none"/>
<g clip-path="url(#cb2)"><path d="M124.0,873.4 L124.4,883.7 L125.2,885.8 L129.2,884.9 L132.7,885.5 L135.6,884.3 L137.3,882.0 L139.0,880.3 L140.8,875.7 L142.5,871.0 L144.2,866.4 L146.0,861.8 L147.1,856.1 L148.3,853.7 L149.4,852.6 L150.0,839.3 L150.9,850.3 L152.1,846.8 L153.4,831.8 L155.2,827.8 L156.7,833.0 L158.1,822.6 L159.2,809.9 L160.4,815.7 L161.5,808.2 L163.3,803.0 L165.0,798.4 L166.7,793.8 L167.9,792.2 L169.0,792.2 L170.2,796.7 L171.9,794.9 L173.1,793.2 L174.2,796.1 L175.4,793.2 L176.2,810.5 L177.9,807.0 L180.2,808.2 L181.9,814.5 L183.1,825.5 L184.8,824.9 L186.0,823.2 L187.1,829.5 L188.8,832.4 L190.6,835.3 L192.3,838.2 L193.5,835.3 L194.6,848.0 L196.3,850.3 L198.1,850.9 L199.2,849.1 L201.0,859.5 L203.3,864.1 L205.0,869.9 L206.7,872.2 L209.0,873.9 L210.8,874.5 L212.5,876.2 L214.2,879.7 L215.9,876.2 L217.7,878.5 L220.0,879.7 L221.7,883.2 L223.4,879.1 L225.2,881.4 L227.5,881.4 L229.8,882.0 L232.0,881.2 L234.7,883.4 L236.7,882.3 L238.7,880.7 L240.8,881.6 L242.8,883.0 L245.5,882.0 L248.2,883.0 L250.9,883.6 L252.9,885.3 L255.6,886.0 L258.3,885.3 L261.0,886.0 L297.0,886.0" stroke="#000" stroke-width="1.6" fill="none" stroke-linejoin="miter" stroke-miterlimit="3"/><path d="M296.9,872.2 L297.9,884.9 L299.0,886.0 L301.9,885.5 L306.0,885.8 L308.3,884.3 L311.1,883.2 L312.9,879.7 L314.6,880.3 L316.3,876.8 L318.1,874.5 L319.2,871.0 L321.5,868.7 L323.3,861.8 L325.0,858.4 L326.7,856.6 L328.4,850.3 L329.6,851.4 L331.0,838.7 L332.5,836.4 L334.2,831.8 L335.9,828.4 L338.3,824.9 L339.4,820.3 L340.6,814.5 L342.1,820.3 L343.4,818.6 L344.8,815.1 L345.7,820.3 L347.5,819.1 L349.2,819.7 L351.7,820.3 L353.5,824.9 L354.8,830.7 L356.3,826.1 L358.1,830.7 L359.8,835.3 L361.5,838.7 L363.3,837.6 L365.0,839.9 L366.7,834.7 L368.5,845.1 L369.8,843.4 L370.8,840.5 L372.5,844.5 L374.2,854.9 L376.0,856.6 L377.7,864.1 L379.4,867.6 L381.1,871.0 L383.4,869.9 L385.2,874.5 L387.5,877.4 L389.8,879.7 L392.1,875.7 L394.4,878.5 L396.7,880.8 L398.4,882.0 L400.7,879.7 L403.1,880.3 L405.4,879.7 L407.4,877.6 L409.7,881.2 L412.4,880.3 L414.4,882.3 L417.1,881.2 L419.8,882.6 L423.2,883.9 L425.2,881.6 L427.2,885.0 L429.9,886.0 L469.0,886.0" stroke="#000" stroke-width="1.6" fill="none" stroke-linejoin="miter" stroke-miterlimit="3"/></g>
<text transform="translate(114.40,796.50) scale(1.000,1)" font-size="13" text-anchor="end">128</text>
<text transform="translate(111.60,660.60) scale(1.000,1)" font-size="13" text-anchor="end">0</text>
<text transform="translate(111.60,772.80) scale(1.000,1)" font-size="13" text-anchor="end">0</text>
<text transform="translate(111.60,890.40) scale(1.000,1)" font-size="13" text-anchor="end">0</text>
<path d="M169.25,566.3 V886.4" stroke="#000" stroke-width="1.6" fill="none"/>
<path d="M345.5,566.3 V886.6" stroke="#000" stroke-width="1.75" fill="none"/>
<text transform="translate(234.00,584.60) scale(1.000,1)" font-size="13">Control</text>
<text transform="translate(411.00,585.90) scale(1.000,1)" font-size="13">Control</text>
<text transform="translate(199.40,609.50) scale(0.960,1)" font-size="13">15.8</text>
<text transform="translate(376.20,609.50) scale(0.960,1)" font-size="13">21.7</text>
<text transform="translate(186.60,691.80) scale(1.000,1)" font-size="13">DBBF-Hb + GOX</text>
<text transform="translate(363.80,690.80) scale(1.000,1)" font-size="13">DBBF-Hb + GOX</text>
<text transform="translate(209.90,727.00) scale(0.970,1)" font-size="13">44.2</text>
<text transform="translate(422.10,727.60) scale(0.970,1)" font-size="13">201.8</text>
<text transform="translate(189.60,808.60) scale(1.000,1)" font-size="13">DBBF-Hb + GOX</text>
<text transform="translate(215.80,823.50) scale(1.000,1)" font-size="13">+ z-VAD</text>
<text transform="translate(366.60,808.80) scale(1.000,1)" font-size="13">DBBF-Hb + GOX</text>
<text transform="translate(390.70,823.60) scale(1.010,1)" font-size="13">+ z-VAD</text>
<text transform="translate(211.00,857.50) scale(0.970,1)" font-size="13">16.9</text>
<text transform="translate(387.30,858.20) scale(0.980,1)" font-size="13">21.5</text>
<text transform="translate(123.40,899.70) scale(0.980,1)" font-size="12.6" text-anchor="middle">10</text>
<text transform="translate(130.10,893.30) scale(1.000,1)" font-size="7.6">0</text>
<text transform="translate(165.80,899.70) scale(0.980,1)" font-size="12.6" text-anchor="middle">10</text>
<text transform="translate(172.90,893.10) scale(1.000,1)" font-size="7.6">1</text>
<text transform="translate(209.10,899.70) scale(0.980,1)" font-size="12.6" text-anchor="middle">10</text>
<text transform="translate(215.80,893.40) scale(1.000,1)" font-size="7.6">2</text>
<text transform="translate(252.30,899.80) scale(0.980,1)" font-size="12.6" text-anchor="middle">10</text>
<text transform="translate(258.90,893.30) scale(1.000,1)" font-size="7.6">3</text>
<text transform="translate(300.50,900.50) scale(0.980,1)" font-size="12.6" text-anchor="middle">10</text>
<text transform="translate(308.10,893.60) scale(1.000,1)" font-size="7.6">0</text>
<text transform="translate(339.50,900.50) scale(0.980,1)" font-size="12.6" text-anchor="middle">10</text>
<text transform="translate(346.20,893.60) scale(1.000,1)" font-size="7.6">1</text>
<text transform="translate(383.10,900.60) scale(0.980,1)" font-size="12.6" text-anchor="middle">10</text>
<text transform="translate(389.50,893.70) scale(1.000,1)" font-size="7.6">2</text>
<text transform="translate(426.50,900.60) scale(0.980,1)" font-size="12.6" text-anchor="middle">10</text>
<text transform="translate(433.10,893.70) scale(1.000,1)" font-size="7.6">3</text>
<text transform="translate(-0.30,564.20) scale(0.960,1)" font-size="30.0" font-weight="bold" style="stroke-width:0.7px">B</text>
<text transform="translate(200.90,556.70) scale(1.070,1)" font-size="18.5" font-weight="bold" text-anchor="middle">12 h</text>
<text transform="translate(377.40,556.70) scale(1.070,1)" font-size="18.5" font-weight="bold" text-anchor="middle">24 h</text>
<text transform="translate(244.20,930.70) scale(1.035,1)" font-size="15.2" font-weight="bold">Annexin</text>
<text transform="translate(310.40,930.70) scale(1.110,1)" font-size="15.2" font-weight="bold">V-FITC</text>
<g transform="translate(61,711.5) rotate(-90)"><text x="0" y="0" font-size="16.3" font-weight="bold" text-anchor="middle">Events</text></g>
</svg>
</body></html>
